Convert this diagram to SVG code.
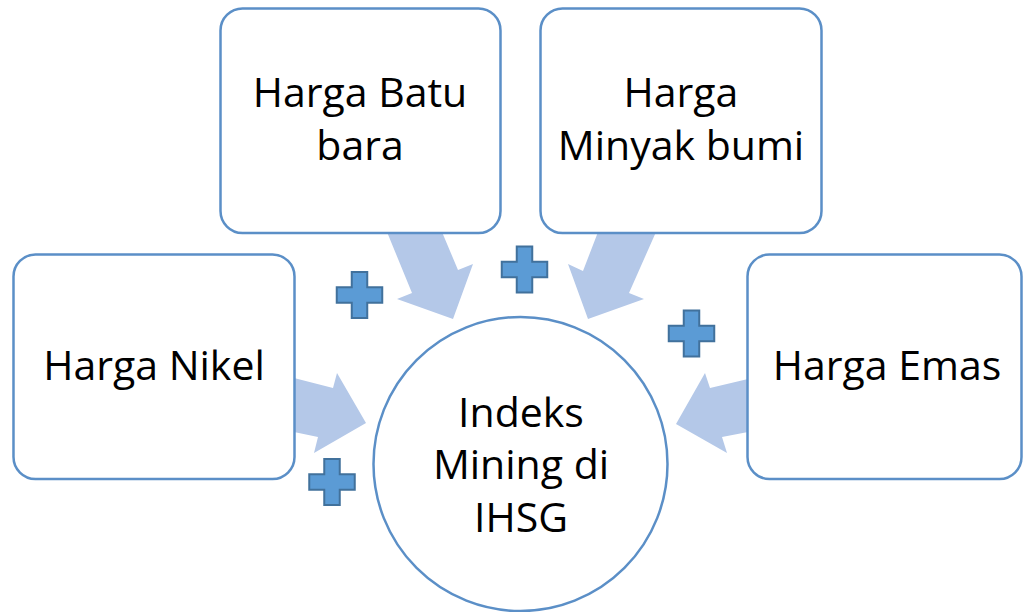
<svg xmlns="http://www.w3.org/2000/svg" width="1023" height="612" viewBox="0 0 1023 612">
  <style>
    .box { fill: #ffffff; stroke: #5b8fc7; stroke-width: 2.5; }
    .arrow { fill: #b4c8e8; stroke: none; }
    .plus { fill: #5b9bd5; stroke: #41719c; stroke-width: 2; }
    .lbl { font-family: "Open Sans", "Liberation Sans", sans-serif; font-size: 41px; fill: #000000; text-anchor: middle; }
  </style>
  <defs>
    <path id="plusShape" d="M -7.75 -23 h 15.5 v 15.25 h 15 v 15.5 h -15 v 15.25 h -15.5 v -15.25 h -15 v -15.5 h 15 z"/>
  </defs>
  <rect width="1023" height="612" fill="#ffffff"/>
  <g id="connectors">
    <polygon class="arrow" points="387,232 442,232 458,270 473,264 453,319 397,299 412,293"/>
    <polygon class="arrow" points="598,232 656,232 629,293 644,299 588,319 568,264 583,271"/>
    <polygon class="arrow" points="294,378 333,388 337,373 366,423 314,453 318,437 294,432"/>
    <polygon class="arrow" points="748,379 710,388 705,373 676,424 727,453 722,437 748,432"/>
    <use href="#plusShape" class="plus" x="359.5" y="295"/>
    <use href="#plusShape" class="plus" x="524.5" y="269.5"/>
    <use href="#plusShape" class="plus" x="332" y="482"/>
    <use href="#plusShape" class="plus" x="691.5" y="333.5"/>
  </g>
  <g id="node-batubara">
    <rect class="box" x="220.5" y="8.5" width="280" height="224.5" rx="22" ry="22"/>
    <text class="lbl" x="360" y="107">Harga Batu</text>
    <text class="lbl" x="360" y="160">bara</text>
  </g>
  <g id="node-minyak">
    <rect class="box" x="540.5" y="8.5" width="281" height="224.5" rx="22" ry="22"/>
    <text class="lbl" x="681" y="107">Harga</text>
    <text class="lbl" x="681" y="160">Minyak bumi</text>
  </g>
  <g id="node-nikel">
    <rect class="box" x="13.5" y="254.5" width="281" height="224.5" rx="22" ry="22"/>
    <text class="lbl" x="154" y="380">Harga Nikel</text>
  </g>
  <g id="node-emas">
    <rect class="box" x="747.5" y="254.5" width="274" height="224.5" rx="22" ry="22"/>
    <text class="lbl" x="887" y="380">Harga Emas</text>
  </g>
  <g id="node-indeks">
    <circle class="box" cx="520.5" cy="464" r="147"/>
    <text class="lbl" x="521" y="427">Indeks</text>
    <text class="lbl" x="521" y="479">Mining di</text>
    <text class="lbl" x="521" y="532">IHSG</text>
  </g>
</svg>
